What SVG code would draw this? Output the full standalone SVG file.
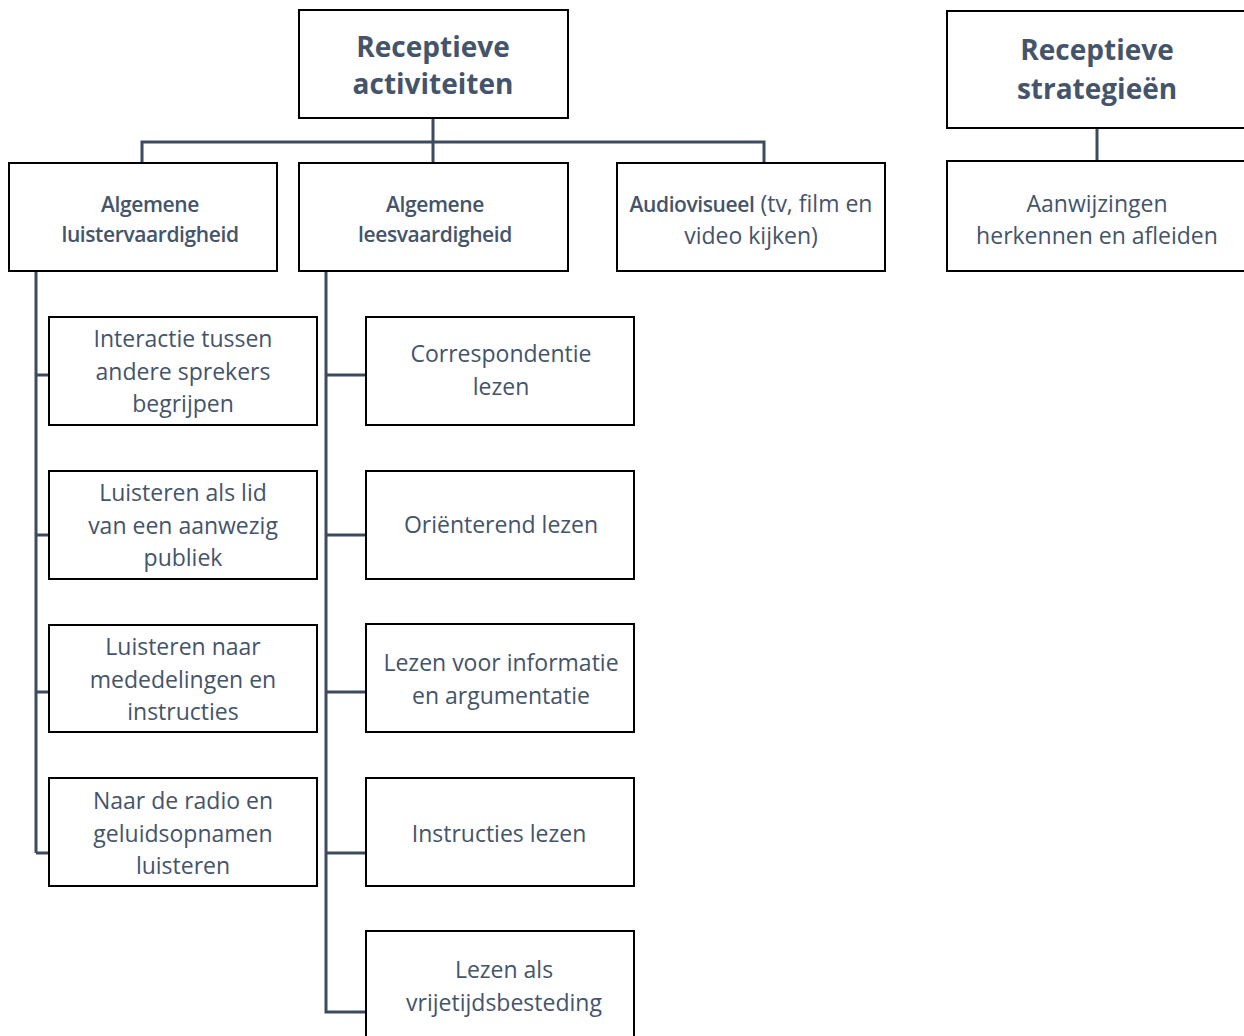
<svg xmlns="http://www.w3.org/2000/svg" width="1244" height="1036" viewBox="0 0 1244 1036">
<style>
.box{fill:#fff;stroke:#000;stroke-width:2}
.c{fill:none;stroke:#3d4b5c;stroke-width:3}
text{font-family:"Open Sans","Noto Sans","Liberation Sans",sans-serif;fill:#44546a;text-anchor:middle}
.h{font-size:28px;font-weight:700}
.m{font-size:21px;font-weight:600;letter-spacing:-0.4px}
.t{font-size:23px}
</style>
<rect width="1244" height="1036" fill="#fff"/>
<g id="connectors">
<path class="c" d="M433,118 V163 M142,163 V142 H764 V163"/>
<path class="c" d="M1097,128 V161"/>
<path class="c" d="M36,271 V853 M36,375 H49 M36,535 H49 M36,692 H49 M36,853 H49"/>
<path class="c" d="M326,271 V1012 H366 M326,375 H366 M326,535 H366 M326,692 H366 M326,853 H366"/>
</g>
<g id="n-receptieve-activiteiten"><rect class="box" x="299" y="10" width="269" height="108"/><text class="h" x="433" y="57">Receptieve</text><text class="h" x="433" y="94">activiteiten</text></g>
<g id="n-receptieve-strategieen"><rect class="box" x="947" y="11" width="300" height="117"/><text class="h" x="1097" y="60">Receptieve</text><text class="h" x="1097" y="99">strategieën</text></g>
<g id="n-luister"><rect class="box" x="9" y="163" width="268" height="108"/><text class="m" x="150" y="212">Algemene</text><text class="m" x="150" y="242">luistervaardigheid</text></g>
<g id="n-lees"><rect class="box" x="299" y="163" width="269" height="108"/><text class="m" x="435" y="212">Algemene</text><text class="m" x="435" y="242">leesvaardigheid</text></g>
<g id="n-audio"><rect class="box" x="617" y="163" width="268" height="108"/><text class="t" x="751" y="212"><tspan class="m">Audiovisueel</tspan> (tv, film en</text><text class="t" x="751" y="244">video kijken)</text></g>
<g id="n-aanwijzingen"><rect class="box" x="947" y="161" width="300" height="110"/><text class="t" x="1097" y="212">Aanwijzingen</text><text class="t" x="1097" y="244">herkennen en afleiden</text></g>
<g id="n-interactie"><rect class="box" x="49" y="317" width="268" height="108"/><text class="t" x="183" y="347">Interactie tussen</text><text class="t" x="183" y="380">andere sprekers</text><text class="t" x="183" y="412">begrijpen</text></g>
<g id="n-lid"><rect class="box" x="49" y="471" width="268" height="108"/><text class="t" x="183" y="501">Luisteren als lid</text><text class="t" x="183" y="534">van een aanwezig</text><text class="t" x="183" y="566">publiek</text></g>
<g id="n-mededelingen"><rect class="box" x="49" y="625" width="268" height="107"/><text class="t" x="183" y="655">Luisteren naar</text><text class="t" x="183" y="688">mededelingen en</text><text class="t" x="183" y="720">instructies</text></g>
<g id="n-radio"><rect class="box" x="49" y="778" width="268" height="108"/><text class="t" x="183" y="809">Naar de radio en</text><text class="t" x="183" y="842">geluidsopnamen</text><text class="t" x="183" y="874">luisteren</text></g>
<g id="n-correspondentie"><rect class="box" x="366" y="317" width="268" height="108"/><text class="t" x="501" y="362">Correspondentie</text><text class="t" x="501" y="395">lezen</text></g>
<g id="n-orienterend"><rect class="box" x="366" y="471" width="268" height="108"/><text class="t" x="501" y="533">Oriënterend lezen</text></g>
<g id="n-informatie"><rect class="box" x="366" y="624" width="268" height="108"/><text class="t" x="501" y="671">Lezen voor informatie</text><text class="t" x="501" y="704">en argumentatie</text></g>
<g id="n-instructies"><rect class="box" x="366" y="778" width="268" height="108"/><text class="t" x="499" y="842">Instructies lezen</text></g>
<g id="n-vrijetijd"><rect class="box" x="366" y="931" width="268" height="110"/><text class="t" x="504" y="978">Lezen als</text><text class="t" x="504" y="1011">vrijetijdsbesteding</text></g>
</svg>
